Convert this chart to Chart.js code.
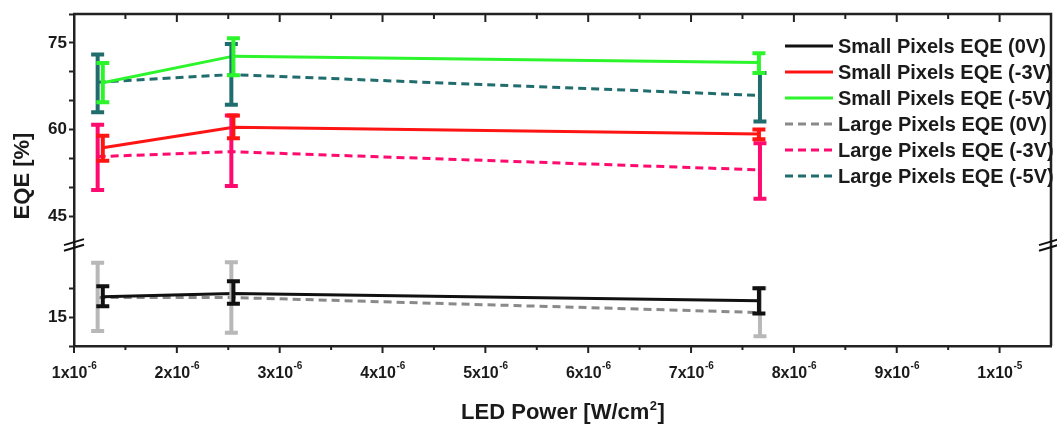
<!DOCTYPE html>
<html>
<head>
<meta charset="utf-8">
<script src="https://cdn.jsdelivr.net/npm/chart.js@4.4.0/dist/chart.umd.min.js"></script>
<style>
html,body{margin:0;padding:0;background:#fff;}
#wrap{width:1057px;height:427px;position:relative;}
</style>
</head>
<body>
<div id="wrap"><canvas id="c"></canvas></div>
<script>
// ---------- data ----------
const seriesLabels = [
  'Small Pixels EQE (0V)', 'Small Pixels EQE (-3V)', 'Small Pixels EQE (-5V)',
  'Large Pixels EQE (0V)', 'Large Pixels EQE (-3V)', 'Large Pixels EQE (-5V)'
];
const smallX = [1.28e-6, 2.55e-6, 7.66e-6];
const largeX = [1.23e-6, 2.53e-6, 7.67e-6];

const small0V   = [18.55, 19.1, 17.85];
const small0VLo = [16.9, 17.3, 15.65];
const small0VHi = [20.35, 21.2, 20.0];

const small3V   = [56.85, 60.4, 59.2];
const small3VLo = [54.6, 58.5, 58.3];
const small3VHi = [58.9, 62.4, 60.0];

const small5V   = [68.1, 72.7, 71.6];
const small5VLo = [64.7, 69.4, 69.8];
const small5VHi = [71.5, 75.8, 73.2];

const large0V   = [18.4, 18.4, 15.8];
const large0VLo = [12.6, 12.3, 11.7];
const large0VHi = [24.4, 24.5, 20.0];

const large3V   = [55.3, 56.15, 53.0];
const large3VLo = [49.5, 50.2, 48.0];
const large3VHi = [60.8, 62.4, 57.6];

const large5V   = [68.2, 69.5, 65.9];
const large5VLo = [63.0, 64.3, 61.4];
const large5VHi = [73.0, 74.8, 69.8];

const xTickValues = [1e-6, 2e-6, 3e-6, 4e-6, 5e-6, 6e-6, 7e-6, 8e-6, 9e-6, 1e-5];
const xTickBase   = ['1x10','2x10','3x10','4x10','5x10','6x10','7x10','8x10','9x10','1x10'];
const xTickExp    = ['-6','-6','-6','-6','-6','-6','-6','-6','-6','-5'];
const xMinorTicks = [1.5e-6, 2.5e-6, 3.5e-6, 4.5e-6, 5.5e-6, 6.5e-6, 7.5e-6, 8.5e-6, 9.5e-6];
const yTickLabels = [15, 45, 60, 75];

// ---------- helpers ----------
const FONT = "'Liberation Sans', Arial, Helvetica, sans-serif";
Chart.defaults.font.family = FONT;
const pts = (xs, ys) => xs.map((x, i) => ({x: x, y: ys[i]}));

function ds(label, xs, ys, lo, hi, axis, color, errColor, dash) {
  return {
    label: label, data: pts(xs, ys), yAxisID: axis,
    borderColor: color, backgroundColor: color, borderWidth: 3,
    borderDash: dash, pointRadius: 0, tension: 0, fill: false,
    errLow: lo, errHigh: hi, errColor: errColor
  };
}
const DASH = [8, 5];
const datasets = [
  ds(seriesLabels[0], smallX, small0V, small0VLo, small0VHi, 'yBot', '#111111', '#111111', []),
  ds(seriesLabels[1], smallX, small3V, small3VLo, small3VHi, 'yTop', '#ff1414', '#ff1414', []),
  ds(seriesLabels[2], smallX, small5V, small5VLo, small5VHi, 'yTop', '#2cf52c', '#2cf52c', []),
  ds(seriesLabels[3], largeX, large0V, large0VLo, large0VHi, 'yBot', '#8a8a8a', '#b8b8b8', DASH),
  ds(seriesLabels[4], largeX, large3V, large3VLo, large3VHi, 'yTop', '#ff0a6e', '#ff0a6e', DASH),
  ds(seriesLabels[5], largeX, large5V, large5VLo, large5VHi, 'yTop', '#216d6e', '#216d6e', DASH)
];

// ---------- plugins ----------
const errorBars = {
  id: 'errorBars',
  afterDatasetsDraw(chart) {
    const ctx = chart.ctx, xs = chart.scales.x;
    const order = [3, 4, 5, 0, 1, 2];
    ctx.save();
    order.forEach(i => {
      const d = chart.data.datasets[i];
      const ys = chart.scales[d.yAxisID];
      ctx.strokeStyle = d.errColor;
      ctx.lineWidth = 4;
      ctx.setLineDash([]);
      d.data.forEach((p, j) => {
        const x = xs.getPixelForValue(p.x);
        const y1 = ys.getPixelForValue(d.errLow[j]);
        const y2 = ys.getPixelForValue(d.errHigh[j]);
        ctx.beginPath();
        ctx.moveTo(x, y1); ctx.lineTo(x, y2);
        ctx.moveTo(x - 6.5, y1); ctx.lineTo(x + 6.5, y1);
        ctx.moveTo(x - 6.5, y2); ctx.lineTo(x + 6.5, y2);
        ctx.stroke();
      });
    });
    ctx.restore();
  }
};

const frame = {
  id: 'frame',
  afterDraw(chart) {
    const ctx = chart.ctx, a = chart.chartArea, x = chart.scales.x;
    ctx.save();
    ctx.strokeStyle = '#222'; ctx.lineWidth = 2.5; ctx.setLineDash([]);
    ctx.beginPath();
    ctx.moveTo(a.left - 1, a.top); ctx.lineTo(a.right, a.top); ctx.lineTo(a.right, a.bottom);
    ctx.stroke();
    // x ticks (bottom outward, top inward)
    ctx.lineWidth = 2;
    ctx.beginPath();
    xTickValues.forEach(v => {
      const px = x.getPixelForValue(v);
      ctx.moveTo(px, a.bottom); ctx.lineTo(px, a.bottom + 7);
      ctx.moveTo(px, a.top); ctx.lineTo(px, a.top + 8);
    });
    xMinorTicks.forEach(v => {
      const px = x.getPixelForValue(v);
      ctx.moveTo(px, a.bottom); ctx.lineTo(px, a.bottom + 4);
      ctx.moveTo(px, a.top); ctx.lineTo(px, a.top + 5);
    });
    ctx.stroke();
    // x tick labels with superscript exponents
    ctx.fillStyle = '#1a1a1a';
    ctx.textBaseline = 'alphabetic'; ctx.textAlign = 'left';
    xTickValues.forEach((v, i) => {
      const px = x.getPixelForValue(v);
      ctx.font = 'bold 16px ' + FONT;
      const wb = ctx.measureText(xTickBase[i]).width;
      ctx.font = 'bold 10px ' + FONT;
      const we = ctx.measureText(xTickExp[i]).width;
      const sx = px - (wb + we) / 2;
      ctx.font = 'bold 16px ' + FONT;
      ctx.fillText(xTickBase[i], sx, a.bottom + 32);
      ctx.font = 'bold 10px ' + FONT;
      ctx.fillText(xTickExp[i], sx + wb + 0.5, a.bottom + 23);
    });
    // axis break marks
    const yb = chart.scales.yTop.getPixelForValue(40);
    ctx.lineWidth = 2; ctx.strokeStyle = '#111';
    [a.left, a.right - 2].forEach(cx => {
      ctx.beginPath();
      [-2.8, 2.8].forEach(off => {
        ctx.moveTo(cx - 10, yb + off + 3);
        ctx.lineTo(cx + 10, yb + off - 3);
      });
      ctx.stroke();
    });
    // axis titles
    ctx.fillStyle = '#1a1a1a';
    ctx.save();
    ctx.translate(23, (a.top + a.bottom) / 2 - 4);
    ctx.rotate(-Math.PI / 2);
    ctx.font = 'bold 22px ' + FONT;
    ctx.textAlign = 'center'; ctx.textBaseline = 'middle';
    ctx.fillText('EQE [%]', 0, 0);
    ctx.restore();
    const t1 = 'LED Power [W/cm', t2 = '2', t3 = ']';
    ctx.font = 'bold 22px ' + FONT;
    const w1 = ctx.measureText(t1).width, w3 = ctx.measureText(t3).width;
    ctx.font = 'bold 13px ' + FONT;
    const w2 = ctx.measureText(t2).width;
    let sx = (a.left + a.right) / 2 - (w1 + w2 + w3) / 2;
    const by = a.bottom + 73;
    ctx.textAlign = 'left'; ctx.textBaseline = 'alphabetic';
    ctx.font = 'bold 22px ' + FONT; ctx.fillText(t1, sx, by);
    ctx.font = 'bold 13px ' + FONT; ctx.fillText(t2, sx + w1 + 0.5, by - 9);
    ctx.font = 'bold 22px ' + FONT; ctx.fillText(t3, sx + w1 + w2 + 1, by);
    // legend
    chart.data.datasets.forEach((d, i) => {
      const y = a.top + 32 + 26 * i;
      ctx.strokeStyle = d.borderColor; ctx.lineWidth = 3;
      ctx.setLineDash(d.borderDash || []);
      ctx.beginPath(); ctx.moveTo(a.right - 266, y); ctx.lineTo(a.right - 218, y); ctx.stroke();
      ctx.setLineDash([]);
      ctx.fillStyle = '#1a1a1a';
      ctx.font = 'bold 20px ' + FONT;
      ctx.textBaseline = 'middle';
      ctx.fillText(d.label, a.right - 213, y + 1);
    });
    ctx.restore();
  }
};

// ---------- chart ----------
const yCommon = {
  type: 'linear', position: 'left', stack: 'eqe',
  grid: { drawOnChartArea: false, drawTicks: true, tickLength: 5, tickColor: '#222', tickWidth: 2 },
  border: { display: true, color: '#222', width: 2.5 },
  ticks: {
    stepSize: 5, padding: 2, color: '#1a1a1a', autoSkip: false,
    font: { size: 17, weight: 'bold', family: FONT },
    callback: v => yTickLabels.includes(v) ? String(v) : ''
  },
  afterFit(s) { s.width = 74; }
};

new Chart(document.getElementById('c'), {
  type: 'line',
  data: { datasets: datasets },
  options: {
    responsive: true, maintainAspectRatio: false, animation: false,
    layout: { padding: { top: 14, right: 6, left: 0, bottom: 0 } },
    plugins: { legend: { display: false }, tooltip: { enabled: false } },
    scales: {
      x: {
        type: 'linear', min: 1e-6, max: 1.05e-5,
        ticks: { display: false },
        grid: { display: false, drawTicks: false },
        border: { display: true, color: '#222', width: 2.5 },
        afterFit(s) { s.height = 81; }
      },
      yBot: Object.assign({}, yCommon, {
        min: 10, max: 27.5, stackWeight: 17.5,
        afterBuildTicks(s) { s.ticks = s.ticks.filter(t => t.value % 5 === 0); }
      }),
      yTop: Object.assign({}, yCommon, {
        min: 40, max: 80, stackWeight: 40,
        afterBuildTicks(s) { s.ticks = s.ticks.filter(t => t.value > 40 && t.value % 5 === 0); }
      })
    }
  },
  plugins: [errorBars, frame]
});
</script>
</body>
</html>
